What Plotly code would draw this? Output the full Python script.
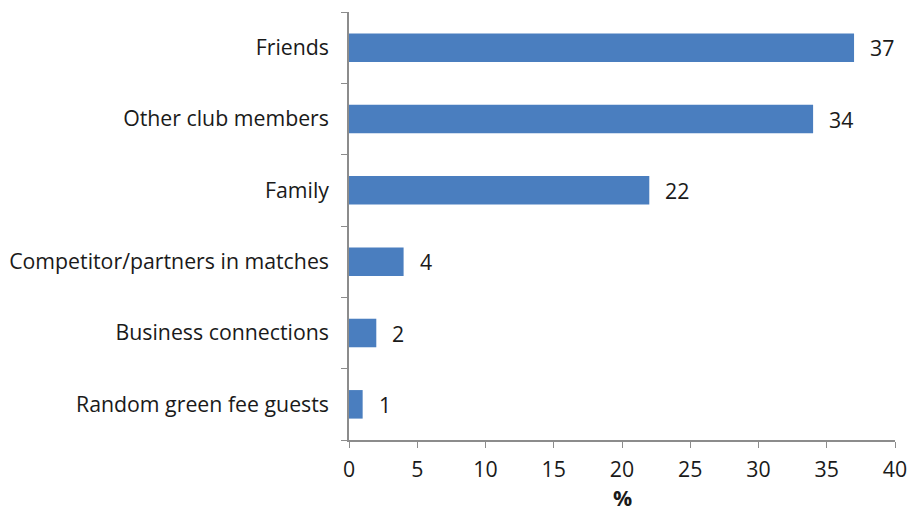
import plotly.graph_objects as go

# Share of responses by source, top to bottom
categories = [
    "Friends",
    "Other club members",
    "Family",
    "Competitor/partners in matches",
    "Business connections",
    "Random green fee guests",
]
values = [37, 34, 22, 4, 2, 1]
x_ticks = [0, 5, 10, 15, 20, 25, 30, 35, 40]
x_title = "%"

FONT = "Open Sans, Noto Sans, sans-serif"
FONT_SIZE = 21.3
AXIS_GREY = "#8c8c8c"
BAR_BLUE = "#4a7ebf"

fig = go.Figure(
    go.Bar(
        x=values,
        y=categories,
        orientation="h",
        marker=dict(color=BAR_BLUE, line=dict(width=0)),
        width=0.4,
        hoverinfo="x+y",
    )
)

# Value labels just past the end of each bar
for cat, val in zip(categories, values):
    fig.add_annotation(
        x=val,
        y=cat,
        text=str(val),
        showarrow=False,
        xanchor="left",
        xshift=14,
        font=dict(family=FONT, size=FONT_SIZE, color="#1a1a1a"),
    )

# Axis title placed under the tick labels
fig.add_annotation(
    x=0.5,
    y=0,
    xref="paper",
    yref="paper",
    text=f"<b>{x_title}</b>",
    showarrow=False,
    xanchor="center",
    yanchor="bottom",
    yshift=-73,
    borderpad=0,
    font=dict(family=FONT, size=FONT_SIZE, color="#1a1a1a"),
)

fig.update_layout(
    width=909,
    height=514,
    margin=dict(l=349, r=14, t=12, b=74, autoexpand=False),
    plot_bgcolor="white",
    paper_bgcolor="white",
    showlegend=False,
    font=dict(family=FONT, size=FONT_SIZE, color="#1a1a1a"),
    xaxis=dict(
        range=[0, 40],
        tickvals=x_ticks,
        ticks="outside",
        ticklen=6,
        tickcolor=AXIS_GREY,
        showline=True,
        linecolor=AXIS_GREY,
        linewidth=1.5,
        showgrid=False,
        zeroline=False,
        automargin=False,
        ticklabelstandoff=4,
        tickfont=dict(family=FONT, size=FONT_SIZE),
    ),
    yaxis=dict(
        type="category",
        categoryorder="array",
        categoryarray=categories[::-1],
        tickson="boundaries",
        ticks="outside",
        ticklen=6,
        tickcolor=AXIS_GREY,
        showline=True,
        linecolor=AXIS_GREY,
        linewidth=1.5,
        showgrid=False,
        zeroline=False,
        automargin=False,
        ticklabelstandoff=14,
        tickfont=dict(family=FONT, size=FONT_SIZE),
    ),
)

fig.write_html("out.html")
